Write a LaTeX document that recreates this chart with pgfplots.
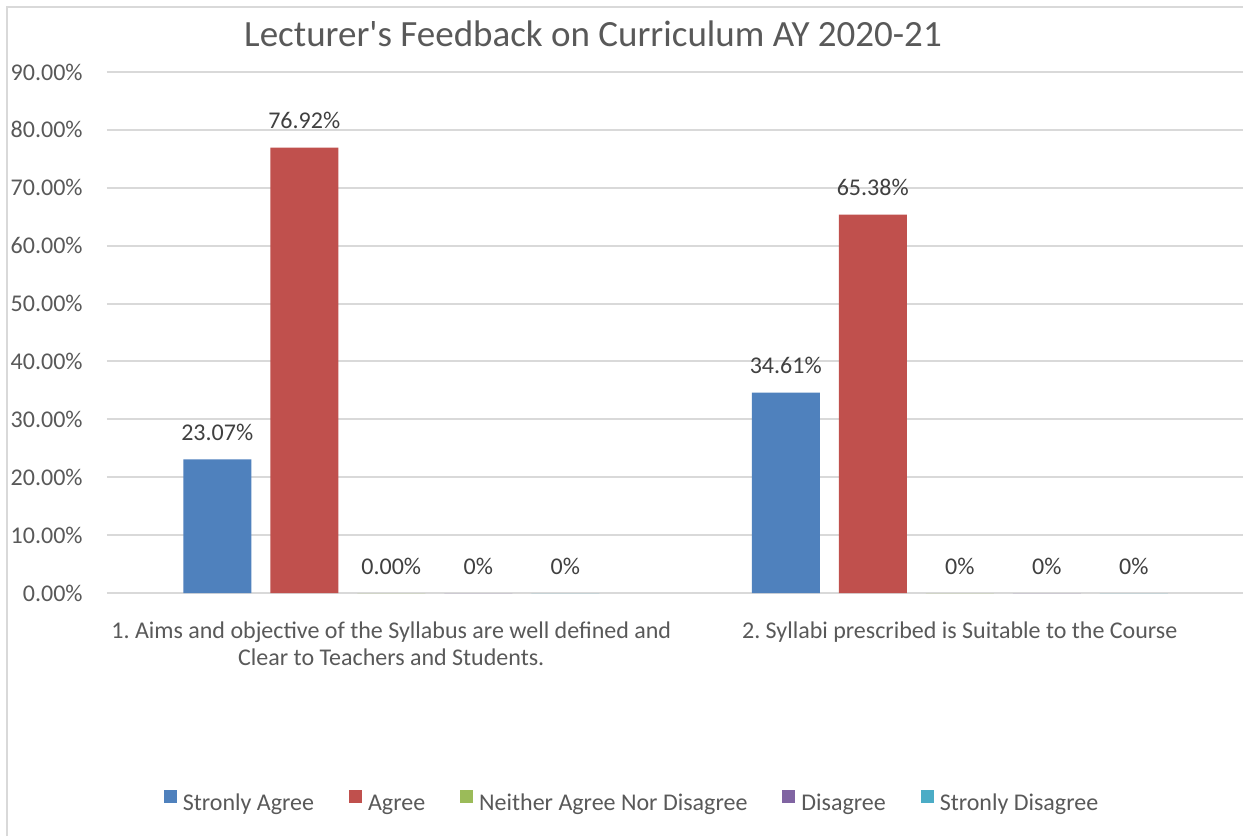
\documentclass[border=0pt]{standalone}
\usepackage{pgfplots}
\pgfplotsset{compat=1.18}
\usepackage{fontspec}
\setmainfont{Carlito}
\frenchspacing
\definecolor{cBlue}{HTML}{4F81BD}
\definecolor{cRed}{HTML}{C0504D}
\definecolor{cGreen}{HTML}{9BBB59}
\definecolor{cPurple}{HTML}{8064A2}
\definecolor{cCyan}{HTML}{4BACC6}
\definecolor{cGrid}{HTML}{D9D9D9}
\definecolor{cText}{HTML}{595959}
\definecolor{cLabel}{HTML}{404040}
\begin{document}
\frenchspacing
\begin{tikzpicture}
\path[use as bounding box] (0,0) rectangle (621.5pt,418pt);
\fill[white] (0,0) rectangle (621.5pt,418pt);
\draw[cGrid, line width=0.75pt] (3.5pt,0pt) -- (3.5pt,414.5pt) -- (640pt,414.5pt);
\node[anchor=base, inner sep=0pt, text=cText, font=\fontsize{18.5}{21}\selectfont] at (296.5pt,394.5pt) {Lecturer\textquotesingle s Feedback on Curriculum AY 2020-21};
\begin{axis}[
  at={(53.5pt,121.5pt)}, anchor=south west,
  scale only axis, width=568.5pt, height=260.5pt,
  xmin=-0.5, xmax=1.5, ymin=0, ymax=90,
  enlargelimits=false, clip=false,
  ybar=9.5pt, bar width=34pt,
  axis line style={draw=none},
  tick style={draw=none},
  ymajorgrids, grid style={cGrid, line width=1pt},
  ytick={0,10,...,90},
  yticklabels={0.00\%,10.00\%,20.00\%,30.00\%,40.00\%,50.00\%,60.00\%,70.00\%,80.00\%,90.00\%},
  yticklabel style={anchor=east, inner sep=0pt, xshift=-12pt, text=cText, font=\fontsize{12}{14}\selectfont},
  xtick={0,1},
  xticklabels={{1.\ Aims and objective of the Syllabus are well defined and\\Clear to Teachers and Students.},{2.\ Syllabi prescribed is Suitable to the Course}},
  xticklabel style={anchor=north, inner sep=0pt, yshift=-10pt, align=center, text=cText, font=\fontsize{12}{13.5}\selectfont},
  point meta=explicit symbolic,
  nodes near coords,
  every node near coord/.append style={anchor=base, inner sep=0pt, yshift=9.5pt, text=cLabel, font=\fontsize{12}{14}\selectfont},
  legend columns=5,
  legend style={at={(0.4609,-0.4012)}, anchor=center, draw=none, fill=none,
    font=\fontsize{12}{14}\selectfont, text=cText,
    nodes={inner sep=0pt},
    /tikz/every odd column/.append style={column sep=3pt},
    /tikz/every even column/.append style={column sep=17.5pt}},
  legend image code/.code={\fill[#1] (0pt,0.5pt) rectangle (6.5pt,7pt);},
]
\addplot[fill=cBlue, draw=none] coordinates {(0,23.07) [23.07\%] (1,34.61) [34.61\%]};
\addplot[fill=cRed, draw=none] coordinates {(0,76.92) [76.92\%] (1,65.38) [65.38\%]};
\addplot[fill=cGreen, draw=none] coordinates {(0,0) [0.00\%] (1,0) [0\%]};
\addplot[fill=cPurple, draw=none] coordinates {(0,0) [0\%] (1,0) [0\%]};
\addplot[fill=cCyan, draw=none] coordinates {(0,0) [0\%] (1,0) [0\%]};
\legend{Stronly Agree, Agree, Neither Agree Nor Disagree, Disagree, Stronly Disagree}
\end{axis}
\end{tikzpicture}
\end{document}
